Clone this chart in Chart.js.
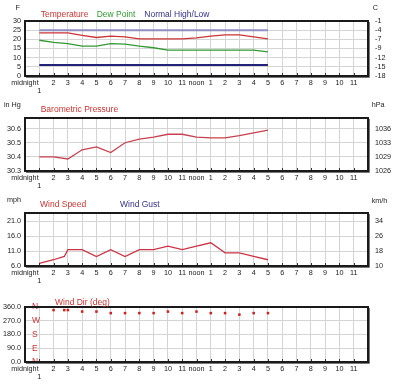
<!DOCTYPE html>
<html><head><meta charset="utf-8">
<script src="https://cdn.jsdelivr.net/npm/chart.js@4.4.1/dist/chart.umd.min.js"></script>
<style>
html,body{margin:0;padding:0;background:#fff}
body{position:relative;width:400px;height:384px;overflow:hidden}
canvas{position:absolute;left:0}
.t{position:absolute;white-space:nowrap}
</style></head><body>
<canvas id="c1" width="400" height="96" style="top:0px"></canvas>
<canvas id="c2" width="400" height="95" style="top:96px"></canvas>
<canvas id="c3" width="400" height="94" style="top:192px"></canvas>
<canvas id="c4" width="400" height="94" style="top:288px"></canvas>
<div id="txt"></div>
<script>
// ---------- data ----------
const hourTicks = [0,1,2,3,4,5,6,7,8,9,10,11,12,13,14,15,16,17,18,19,20,21,22,23];
const hourLabels = ['midnight',['','1'],'2','3','4','5','6','7','8','9','10','11','noon','1','2','3','4','5','6','7','8','9','10','11'];

const tempHours = [1,2,3,4,5,6,7,8,9,10,11,12,13,14,15,16,17];
const temperatureF = [23.5,23.5,23.5,22.2,21.0,21.7,21.3,20.2,20.2,20.2,20.2,20.8,21.7,22.4,22.4,21.3,20.2];
const dewPointF = [19.5,18.3,17.7,16.3,16.3,17.7,17.4,16.3,15.4,14.1,14.1,14.1,14.1,14.1,14.1,14.1,13.2];
const normalHours = [1,17];
const normalHighF = [25,25];
const normalLowF = [6,6];
const tempTicks = [0,5,10,15,20,25,30];

const pressureHours = [1,2,3,4,5,6,7,8,9,10,11,12,13,14,15,16,17];
const pressureInHg = [30.40,30.40,30.385,30.45,30.47,30.43,30.50,30.525,30.54,30.56,30.56,30.54,30.535,30.535,30.55,30.57,30.59];
const pressureTicks = [30.3,30.4,30.5,30.6];

const windHours = [1,2,2.75,3,4,5,6,7,8,9,10,11,12,13,14,15,16,17];
const windSpeedMph = [6.9,8.1,9.2,11.5,11.5,9.2,11.5,9.2,11.5,11.5,12.7,11.5,12.7,13.8,10.4,10.4,9.2,8.1];
const windGustMph = [];
const windTicks = [6,11,16,21];

const dirHours = [2,2.75,3,4,5,6,7,8,9,10,11,12,13,14,15,16,17];
const windDirDeg = [340,340,340,330,330,320,320,320,320,330,320,330,320,320,310,320,320];
const dirTicks = [0,90,180,270,360];
const dirLetters = ['N','E','S','W','N'];

// ---------- fonts ----------
function hasFont(name){
  const c=document.createElement('canvas').getContext('2d');
  const s='Temperature Wind 0123456789';
  c.font='20px monospace'; const a=c.measureText(s).width;
  c.font='20px "'+name+'", monospace'; const b=c.measureText(s).width;
  return Math.abs(a-b)>0.5;
}
const NARROW = hasFont('Liberation Sans Narrow');
const FAM = NARROW ? "'Liberation Sans Narrow', 'Liberation Sans', Arial, sans-serif" : "'Liberation Sans', Arial, sans-serif";
const K = NARROW ? 1 : 0.85;

Chart.defaults.font.family = FAM;
Chart.defaults.color = '#222';
Chart.defaults.animation = false;

const tickFont = {family: FAM, size: 8.5*K, lineHeight: '8px'};
const GRID = '#d4d4d4';
const pts = (xs, ys) => xs.map((x,i)=>({x:x, y:ys[i]}));

const framePlugin = {
  id:'frame',
  afterDraw(chart){
    const ctx=chart.ctx, a=chart.chartArea, x=chart.scales.x;
    ctx.save();
    ctx.strokeStyle='#333'; ctx.lineWidth=1;
    hourTicks.forEach(h=>{
      if(h===0) return;
      const px=Math.round(x.getPixelForValue(h))+0.5;
      ctx.beginPath(); ctx.moveTo(px,a.bottom); ctx.lineTo(px,a.bottom-3); ctx.stroke();
    });
    ctx.strokeStyle='#1a1a1a'; ctx.lineWidth=2;
    ctx.strokeRect(a.left, a.top, a.right-a.left, a.bottom-a.top);
    ctx.strokeStyle='#777'; ctx.lineWidth=1;
    ctx.beginPath(); ctx.moveTo(a.left+1, a.bottom+1.5); ctx.lineTo(a.right+1.5, a.bottom+1.5); ctx.lineTo(a.right+1.5, a.top+1); ctx.stroke();
    ctx.restore();
  }
};

function xScale(){
  return {type:'linear', min:0, max:24,
    afterBuildTicks: s => { s.ticks = hourTicks.map(v=>({value:v})); },
    afterFit: s => { s.height = 20; },
    ticks:{autoSkip:false, maxRotation:0, minRotation:0, padding:3, color:'#222', font:tickFont,
      callback: v => hourLabels[hourTicks.indexOf(v)]},
    grid:{color:GRID, drawTicks:false}, border:{display:false}};
}
function yLeft(min,max,ticks,fmt){
  return {type:'linear', position:'left', weight:1, min:min, max:max,
    afterBuildTicks: s => { s.ticks = ticks.map(v=>({value:v})); },
    afterFit: s => { s.width = 25; },
    ticks:{autoSkip:false, padding:4, color:'#222', font:tickFont, callback:fmt},
    grid:{color:GRID, drawTicks:false}, border:{display:false}};
}
function yRight(min,max,ticks,fmt){
  return {type:'linear', position:'right', min:min, max:max,
    afterBuildTicks: s => { s.ticks = ticks.map(v=>({value:v})); },
    afterFit: s => { s.width = 32; },
    ticks:{autoSkip:false, padding:7, color:'#222', font:tickFont, callback:fmt},
    grid:{display:false, drawTicks:false}, border:{display:false}};
}
function line(label, xs, ys, color, w){
  return {label:label, data:pts(xs,ys), borderColor:color, backgroundColor:color, borderWidth:w||1.3, pointRadius:0, tension:0, fill:false};
}
function make(id, padTop, datasets, scales){
  return new Chart(document.getElementById(id), {
    type:'line',
    data:{datasets:datasets},
    options:{responsive:false, animation:false, events:[],
      layout:{padding:{top:padTop, left:0, right:0, bottom:0}},
      plugins:{legend:{display:false}, tooltip:{enabled:false}},
      scales:scales},
    plugins:[framePlugin]
  });
}

// Panel 1: temperature
make('c1', 21, [
  line('Temperature', tempHours, temperatureF, '#cc3333'),
  line('Dew Point', tempHours, dewPointF, '#339933'),
  line('Normal High', normalHours, normalHighF, '#8e8ec4', 2),
  line('Normal Low', normalHours, normalLowF, '#22227a', 2)
], {x:xScale(), y:yLeft(0,30,tempTicks,v=>String(v)), y2:yRight(0,30,tempTicks,v=>String(Math.round((v-32)*5/9)))});

// Panel 2: pressure
make('c2', 22, [
  line('Barometric Pressure', pressureHours, pressureInHg, '#c8404e')
], {x:xScale(), y:yLeft(30.3,30.675,pressureTicks,v=>v.toFixed(1)), y2:yRight(30.3,30.675,pressureTicks,v=>String(Math.round(v*33.8639)))});

// Panel 3: wind speed
make('c3', 21, [
  line('Wind Speed', windHours, windSpeedMph, '#cc3344'),
  line('Wind Gust', [], windGustMph, '#333388')
], {x:xScale(), y:yLeft(6,23.8,windTicks,v=>v.toFixed(1)), y2:yRight(6,23.8,windTicks,v=>String(Math.round(v*1.609344)))});

// Panel 4: wind direction
make('c4', 19, [
  {label:'Wind Dir (deg)', data:pts(dirHours, windDirDeg), showLine:false, pointStyle:'rect', pointRadius:1.8, pointBorderWidth:0, pointBackgroundColor:'#cc2222', borderColor:'#cc2222'}
], {x:xScale(), y:yLeft(0,360,dirTicks,v=>v.toFixed(1)),
    yd:{type:'linear', position:'left', weight:0, min:0, max:360,
      afterBuildTicks: s => { s.ticks = dirTicks.map(v=>({value:v})); },
      afterFit: s => { s.width = 0; },
      ticks:{autoSkip:false, mirror:true, padding:7, color:'#cc3333', font:{family:FAM, size:10*K}, callback: v => dirLetters[dirTicks.indexOf(v)]},
      grid:{display:false, drawTicks:false}, border:{display:false}},
    y2:yRight(0,360,dirTicks,v=>'')});

// ---------- titles / units (HTML text) ----------
const texts = [
  ['F', 15.5, 10, 8.5, '#222'],
  ['C', 372.7, 10, 8.5, '#222'],
  ['Temperature', 40.7, 16.7, 10, '#cc3333'],
  ['Dew Point', 96.7, 16.7, 10, '#339933'],
  ['Normal High/Low', 144.3, 16.7, 10, '#333388'],
  ['in Hg', 4, 107.3, 8.5, '#222'],
  ['hPa', 371.7, 107.3, 8.5, '#222'],
  ['Barometric Pressure', 40.7, 112.5, 10, '#cc3333'],
  ['mph', 7, 202, 8.5, '#222'],
  ['km/h', 371.7, 202.7, 8.5, '#222'],
  ['Wind Speed', 40, 207.3, 10, '#cc3333'],
  ['Wind Gust', 120, 207.3, 10, '#333388'],
  ['Wind Dir (deg)', 55, 305, 10, '#cc3333']
];
const holder = document.getElementById('txt');
texts.forEach(t=>{
  const d=document.createElement('div');
  d.className='t';
  const fs=t[3]*K;
  d.textContent=t[0];
  d.style.cssText='left:'+t[1]+'px;top:'+(t[2]-0.8465*fs)+'px;font-size:'+fs+'px;line-height:'+fs+'px;color:'+t[4]+';font-family:'+FAM;
  holder.appendChild(d);
});
</script>
</body></html>
